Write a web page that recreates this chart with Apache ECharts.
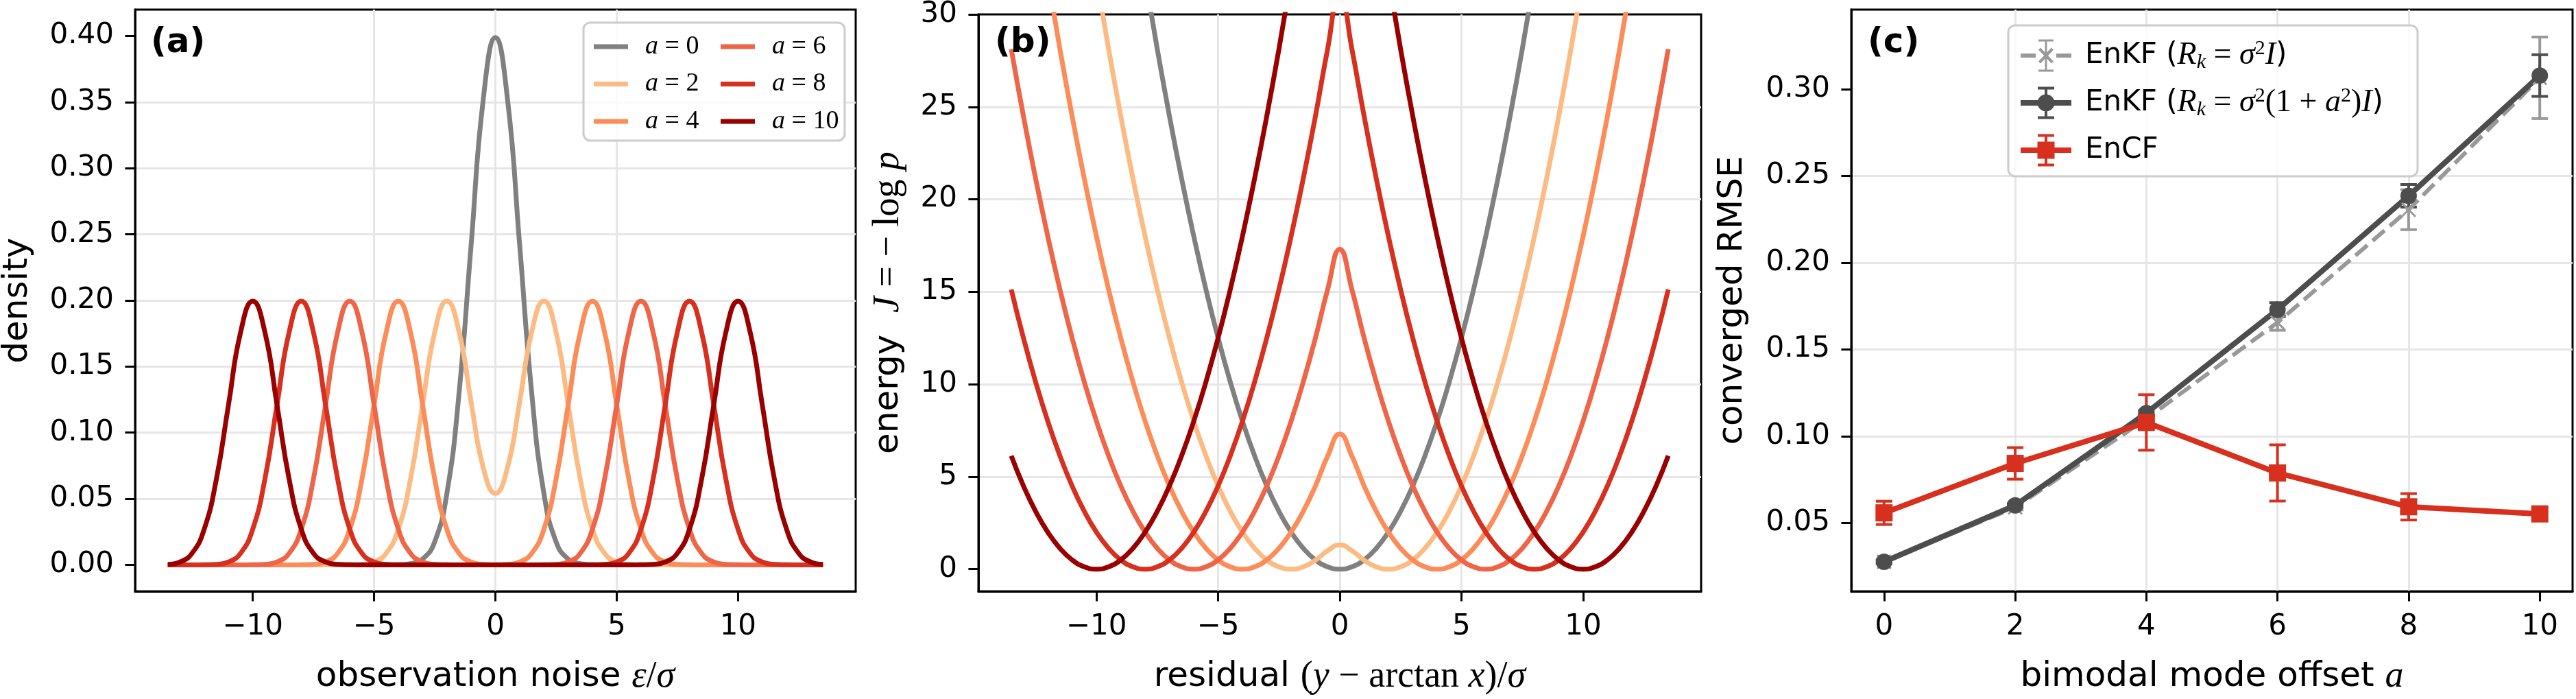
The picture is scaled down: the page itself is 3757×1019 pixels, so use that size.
<!DOCTYPE html>
<html>
<head>
<meta charset="utf-8">
<script src="https://cdn.jsdelivr.net/npm/echarts@6/dist/echarts.min.js"></script>
<style>
  html, body { margin: 0; padding: 0; background: #fff; }
  #chart { width: 3757px; height: 1019px; }
</style>
</head>
<body>
<div id="chart"></div>
<script>
// x grid shared by panels (a) and (b)
const noiseGrid = [-13.5, -13, -12.5, -12, -11.5, -11, -10.5, -10, -9.5, -9, -8.5, -8, -7.5, -7, -6.5, -6, -5.5, -5, -4.5, -4, -3.5, -3, -2.5, -2, -1.5, -1, -0.5,
  0, 0.5, 1, 1.5, 2, 2.5, 3, 3.5, 4, 4.5, 5, 5.5, 6, 6.5, 7, 7.5, 8, 8.5, 9, 9.5, 10, 10.5, 11, 11.5, 12, 12.5, 13, 13.5];

// (a) density
const densityA0 = [0, 0, 0, 0, 0, 0, 0, 0, 0, 0, 0, 0, 0, 0, 0, 0, 0, 0, 0,
  0.0001, 0.0009, 0.0044, 0.0175, 0.0540, 0.1295, 0.2420, 0.3521, 0.3989, 0.3521, 0.2420, 0.1295, 0.0540, 0.0175, 0.0044, 0.0009, 0.0001,
  0, 0, 0, 0, 0, 0, 0, 0, 0, 0, 0, 0, 0, 0, 0, 0, 0, 0, 0];
const densityA2 = [0, 0, 0, 0, 0, 0, 0, 0, 0, 0, 0, 0, 0, 0, 0,
  0.0001, 0.0004, 0.0022, 0.0088, 0.0270, 0.0648, 0.1210, 0.1760, 0.1996, 0.1764, 0.1232, 0.0736, 0.0540,
  0.0736, 0.1232, 0.1764, 0.1996, 0.1760, 0.1210, 0.0648, 0.0270, 0.0088, 0.0022, 0.0004, 0.0001,
  0, 0, 0, 0, 0, 0, 0, 0, 0, 0, 0, 0, 0, 0, 0];
const densityA4 = [0, 0, 0, 0, 0, 0, 0, 0, 0, 0, 0,
  0.0001, 0.0004, 0.0022, 0.0088, 0.0270, 0.0648, 0.1210, 0.1760, 0.1995, 0.1760, 0.1210, 0.0648, 0.0270, 0.0088, 0.0022, 0.0004,
  0.0001,
  0.0004, 0.0022, 0.0088, 0.0270, 0.0648, 0.1210, 0.1760, 0.1995, 0.1760, 0.1210, 0.0648, 0.0270, 0.0088, 0.0022, 0.0004, 0.0001,
  0, 0, 0, 0, 0, 0, 0, 0, 0, 0, 0];
const densityA6 = [0, 0, 0, 0, 0, 0, 0,
  0.0001, 0.0004, 0.0022, 0.0088, 0.0270, 0.0648, 0.1210, 0.1760, 0.1995, 0.1760, 0.1210, 0.0648, 0.0270, 0.0088, 0.0022, 0.0004, 0.0001,
  0, 0, 0, 0, 0, 0, 0,
  0.0001, 0.0004, 0.0022, 0.0088, 0.0270, 0.0648, 0.1210, 0.1760, 0.1995, 0.1760, 0.1210, 0.0648, 0.0270, 0.0088, 0.0022, 0.0004, 0.0001,
  0, 0, 0, 0, 0, 0, 0];
const densityA8 = [0, 0, 0,
  0.0001, 0.0004, 0.0022, 0.0088, 0.0270, 0.0648, 0.1210, 0.1760, 0.1995, 0.1760, 0.1210, 0.0648, 0.0270, 0.0088, 0.0022, 0.0004, 0.0001,
  0, 0, 0, 0, 0, 0, 0, 0, 0, 0, 0, 0, 0, 0, 0,
  0.0001, 0.0004, 0.0022, 0.0088, 0.0270, 0.0648, 0.1210, 0.1760, 0.1995, 0.1760, 0.1210, 0.0648, 0.0270, 0.0088, 0.0022, 0.0004, 0.0001,
  0, 0, 0];
const densityA10 = [0.0004, 0.0022, 0.0088, 0.0270, 0.0648, 0.1210, 0.1760, 0.1995, 0.1760, 0.1210, 0.0648, 0.0270, 0.0088, 0.0022, 0.0004, 0.0001,
  0, 0, 0, 0, 0, 0, 0, 0, 0, 0, 0, 0, 0, 0, 0, 0, 0, 0, 0, 0, 0, 0, 0,
  0.0001, 0.0004, 0.0022, 0.0088, 0.0270, 0.0648, 0.1210, 0.1760, 0.1995, 0.1760, 0.1210, 0.0648, 0.0270, 0.0088, 0.0022, 0.0004];

// (b) energy, null where the curve is far above the top of the panel
const energyA0 = [null, null, null, null, null, null, null, null, null, null, null,
  32, 28.125, 24.5, 21.125, 18, 15.125, 12.5, 10.125, 8, 6.125, 4.5, 3.125, 2, 1.125, 0.5, 0.125, 0,
  0.125, 0.5, 1.125, 2, 3.125, 4.5, 6.125, 8, 10.125, 12.5, 15.125, 18, 21.125, 24.5, 28.125, 32,
  null, null, null, null, null, null, null, null, null, null, null];
const energyA2 = [null, null, null, null, null, null, null,
  32, 28.125, 24.5, 21.125, 18, 15.125, 12.5, 10.125, 8, 6.125, 4.5, 3.125, 2, 1.125, 0.5, 0.125, 0, 0.123, 0.482, 0.998, 1.307,
  0.998, 0.482, 0.123, 0, 0.125, 0.5, 1.125, 2, 3.125, 4.5, 6.125, 8, 10.125, 12.5, 15.125, 18, 21.125, 24.5, 28.125, 32,
  null, null, null, null, null, null, null];
const energyA4 = [null, null, null,
  32, 28.125, 24.5, 21.125, 18, 15.125, 12.5, 10.125, 8, 6.125, 4.5, 3.125, 2, 1.125, 0.5, 0.125, 0, 0.125, 0.5, 1.125, 2, 3.125, 4.5, 6.107, 7.307,
  6.107, 4.5, 3.125, 2, 1.125, 0.5, 0.125, 0, 0.125, 0.5, 1.125, 2, 3.125, 4.5, 6.125, 8, 10.125, 12.5, 15.125, 18, 21.125, 24.5, 28.125, 32,
  null, null, null];
const energyA6 = [28.125, 24.5, 21.125, 18, 15.125, 12.5, 10.125, 8, 6.125, 4.5, 3.125, 2, 1.125, 0.5, 0.125, 0, 0.125, 0.5, 1.125, 2, 3.125, 4.5, 6.125, 8, 10.125, 12.5, 15.12,
  17.307,
  15.12, 12.5, 10.125, 8, 6.125, 4.5, 3.125, 2, 1.125, 0.5, 0.125, 0, 0.125, 0.5, 1.125, 2, 3.125, 4.5, 6.125, 8, 10.125, 12.5, 15.125, 18, 21.125, 24.5, 28.125];
const energyA8 = [15.125, 12.5, 10.125, 8, 6.125, 4.5, 3.125, 2, 1.125, 0.5, 0.125, 0, 0.125, 0.5, 1.125, 2, 3.125, 4.5, 6.125, 8, 10.125, 12.5, 15.125, 18, 21.125, 24.5, 28.125,
  31.307,
  28.125, 24.5, 21.125, 18, 15.125, 12.5, 10.125, 8, 6.125, 4.5, 3.125, 2, 1.125, 0.5, 0.125, 0, 0.125, 0.5, 1.125, 2, 3.125, 4.5, 6.125, 8, 10.125, 12.5, 15.125];
const energyA10 = [6.125, 4.5, 3.125, 2, 1.125, 0.5, 0.125, 0, 0.125, 0.5, 1.125, 2, 3.125, 4.5, 6.125, 8, 10.125, 12.5, 15.125, 18, 21.125, 24.5, 28.125, 32,
  null, null, null, null, null, null, null,
  32, 28.125, 24.5, 21.125, 18, 15.125, 12.5, 10.125, 8, 6.125, 4.5, 3.125, 2, 1.125, 0.5, 0.125, 0, 0.125, 0.5, 1.125, 2, 3.125, 4.5, 6.125];

const modeNames = ['a=0', 'a=2', 'a=4', 'a=6', 'a=8', 'a=10'];
const modeColors = ['#808080', '#fdbb84', '#fc8d59', '#ef6548', '#d7301f', '#990000'];
const densitySets = [densityA0, densityA2, densityA4, densityA6, densityA8, densityA10];
const energySets = [energyA0, energyA2, energyA4, energyA6, energyA8, energyA10];

// (c) converged RMSE with error bar half widths
const offsets = [0, 2, 4, 6, 8, 10];
const rmseEnkfFixed = [0.0276, 0.0590, 0.1100, 0.1655, 0.2305, 0.3065];
const errEnkfFixed = [0.0010, 0.0015, 0.0020, 0.0045, 0.0115, 0.0235];
const rmseEnkfScaled = [0.0276, 0.0601, 0.1133, 0.1729, 0.2385, 0.3078];
const errEnkfScaled = [0.0010, 0.0010, 0.0015, 0.0040, 0.0065, 0.0120];
const rmseEncf = [0.0558, 0.0843, 0.1079, 0.0788, 0.0593, 0.0552];
const errEncf = [0.0067, 0.0091, 0.0160, 0.0162, 0.0076, 0.0015];

const noiseTicks = [-10, -5, 0, 5, 10];
const densityTicks = [0, 0.05, 0.1, 0.15, 0.2, 0.25, 0.3, 0.35, 0.4];
const energyTicks = [0, 5, 10, 15, 20, 25, 30];
const offsetTicks = [0, 2, 4, 6, 8, 10];
const rmseTicks = [0.05, 0.1, 0.15, 0.2, 0.25, 0.3];

const GRID_COLOR = '#e6e6e6';
const SANS = 'DejaVu Sans';
const SERIF = 'Liberation Serif';

function pairs(xs, ys) {
  return xs.map((x, i) => [x, ys[i]]);
}

function mathRich(size) {
  return {
    s: { fontFamily: SANS, fontSize: size, color: '#000' },
    i: { fontFamily: SERIF, fontStyle: 'italic', fontSize: size * 1.08, color: '#000' },
    m: { fontFamily: SERIF, fontSize: size * 1.08, color: '#000' }
  };
}

function signed(v) {
  return v < 0 ? '\u2212' + (-v) : String(v);
}

function valueAxis(gridIndex, min, max, step, ticks, fmt, extra) {
  return Object.assign({
    type: 'value', gridIndex, min, max,
    minInterval: step, maxInterval: step,
    axisLine: { show: true, onZero: false, lineStyle: { color: '#000', width: 3 } },
    axisTick: { show: true, length: 14.6, customValues: ticks, lineStyle: { color: '#000', width: 3 } },
    axisLabel: {
      customValues: ticks, margin: 31, fontFamily: SANS, fontSize: 42, color: '#000', formatter: fmt
    },
    splitLine: { show: true, showMinLine: false, showMaxLine: false, lineStyle: { color: GRID_COLOR, width: 3 } },
    nameLocation: 'middle',
    nameTextStyle: { fontFamily: SANS, fontSize: 50, color: '#000', rich: mathRich(50) }
  }, extra);
}

function errorBarItem(color) {
  return function (params, api) {
    const x = api.value(0);
    const top = api.coord([x, api.value(2)]);
    const bottom = api.coord([x, api.value(1)]);
    const half = 12;
    const style = { stroke: color, lineWidth: 4, fill: null };
    return {
      type: 'group',
      children: [
        { type: 'line', shape: { x1: top[0], y1: top[1], x2: bottom[0], y2: bottom[1] }, style },
        { type: 'line', shape: { x1: top[0] - half, y1: top[1], x2: top[0] + half, y2: top[1] }, style },
        { type: 'line', shape: { x1: bottom[0] - half, y1: bottom[1], x2: bottom[0] + half, y2: bottom[1] }, style }
      ]
    };
  };
}

function errorSeries(name, means, errs, color) {
  return {
    type: 'custom', name, xAxisIndex: 2, yAxisIndex: 2, silent: true,
    renderItem: errorBarItem(color),
    encode: { x: 0, y: [1, 2] },
    data: offsets.map((x, i) => [x, means[i] - errs[i], means[i] + errs[i]])
  };
}

const series = [];
densitySets.forEach((ys, k) => {
  series.push({
    type: 'line', name: modeNames[k], xAxisIndex: 0, yAxisIndex: 0,
    data: pairs(noiseGrid, ys), smooth: true, showSymbol: false,
    lineStyle: { width: 7, color: modeColors[k] }, itemStyle: { color: modeColors[k] }
  });
});
energySets.forEach((ys, k) => {
  series.push({
    type: 'line', name: modeNames[k], xAxisIndex: 1, yAxisIndex: 1,
    data: pairs(noiseGrid, ys), smooth: true, showSymbol: false,
    lineStyle: { width: 7, color: modeColors[k] }, itemStyle: { color: modeColors[k] }
  });
});

series.push(errorSeries('err fixed', rmseEnkfFixed, errEnkfFixed, '#999999'));
series.push({
  type: 'line', name: 'EnKF fixed', xAxisIndex: 2, yAxisIndex: 2,
  data: pairs(offsets, rmseEnkfFixed),
  symbol: 'path://M0,0L10,10M10,0L0,10', symbolSize: 20,
  lineStyle: { width: 6, color: '#999999', type: [23, 10] },
  itemStyle: { color: '#999999', borderColor: '#999999', borderWidth: 3 }
});
series.push(errorSeries('err scaled', rmseEnkfScaled, errEnkfScaled, '#4d4d4d'));
series.push({
  type: 'line', name: 'EnKF scaled', xAxisIndex: 2, yAxisIndex: 2,
  data: pairs(offsets, rmseEnkfScaled),
  symbol: 'circle', symbolSize: 24,
  lineStyle: { width: 8, color: '#4d4d4d' }, itemStyle: { color: '#4d4d4d' }
});
series.push(errorSeries('err encf', rmseEncf, errEncf, '#d7301f'));
series.push({
  type: 'line', name: 'EnCF', xAxisIndex: 2, yAxisIndex: 2,
  data: pairs(offsets, rmseEncf),
  symbol: 'rect', symbolSize: 25,
  lineStyle: { width: 8, color: '#d7301f' }, itemStyle: { color: '#d7301f' }
});

// legend handles for (c): line + error bar + marker
const iconFixed = 'path://M0,20.5h22v6h-22z M52,20.5h22v6h-22z M35.5,0h3v47h-3z M26,0h22v3h-22z M26,44h22v3h-22z ' +
  'M26,15L29,12L48,32L45,35Z M45,12L48,15L29,35L26,32Z';
const iconScaled = 'path://M0,19.5h74v8h-74z M35,0h4v47h-4z M25,0h24v4h-24z M25,43h24v4h-24z ' +
  'M24.5,23.5a12.5,12.5 0 1,1 25,0a12.5,12.5 0 1,1 -25,0z';
const iconEncf = 'path://M0,19.5h74v8h-74z M35,0h4v47h-4z M25,0h24v4h-24z M25,43h24v4h-24z M24.5,11h25v25h-25z';

const rmseLegendText = {
  'EnKF fixed': '{s|EnKF (}{i|R}{sub|k}{m| = }{i|\u03c3}{sup|2}{i|I}{s|)}',
  'EnKF scaled': '{s|EnKF (}{i|R}{sub|k}{m| = }{i|\u03c3}{sup|2}{m|(1 + }{i|a}{sup|2}{m|)}{i|I}{s|)}',
  'EnCF': '{s|EnCF}'
};

const modeLegend = (left, names) => ({
  orient: 'vertical', left, top: 43, itemWidth: 50, itemHeight: 7, itemGap: 14.5,
  icon: 'rect', selectedMode: false,
  data: names,
  formatter: n => '{i|a}{m| = ' + n.split('=')[1] + '}',
  textStyle: {
    padding: [0, 0, 0, 20], lineHeight: 40, color: '#000',
    rich: {
      i: { fontFamily: SERIF, fontStyle: 'italic', fontSize: 38, lineHeight: 40 },
      m: { fontFamily: SERIF, fontSize: 38, lineHeight: 40 }
    }
  }
});

const option = {
  animation: false,
  backgroundColor: '#fff',
  grid: [
    { left: 195, top: 14, width: 1053, height: 860, show: true, borderColor: '#000', borderWidth: 3 },
    { left: 1427, top: 14, width: 1054, height: 860, show: true, borderColor: '#000', borderWidth: 3 },
    { left: 2700, top: 14, width: 1052, height: 860, show: true, borderColor: '#000', borderWidth: 3 }
  ],
  xAxis: [
    valueAxis(0, -14.85, 14.85, 5, noiseTicks, signed,
      { name: '{s|observation noise }{i|\u03b5}{m|/}{i|\u03c3}', nameGap: 98 }),
    valueAxis(1, -14.85, 14.85, 5, noiseTicks, signed,
      { name: '{s|residual }{m|(}{i|y}{m| \u2212 arctan }{i|x}{m|)/}{i|\u03c3}', nameGap: 98 }),
    valueAxis(2, -0.5, 10.5, 2, offsetTicks, v => String(v),
      { name: '{s|bimodal mode offset }{i|a}', nameGap: 98 })
  ],
  yAxis: [
    valueAxis(0, -0.02, 0.42, 0.05, densityTicks, v => v.toFixed(2),
      { name: '{s|density}', nameGap: 146 }),
    valueAxis(1, -1.2, 30, 5, energyTicks, v => String(v),
      { name: '{s|energy  }{i|J}{m| = \u2212 log }{i|p}', nameGap: 104 }),
    valueAxis(2, 0.0106, 0.3458, 0.05, rmseTicks, v => v.toFixed(2),
      { name: '{s|converged RMSE}', nameGap: 148 })
  ],
  legend: [
    modeLegend(861, modeNames.slice(0, 3)),
    modeLegend(1046, modeNames.slice(3)),
    {
      orient: 'vertical', left: 2942, top: 51, itemWidth: 74, itemHeight: 47, itemGap: 19,
      selectedMode: false,
      itemStyle: { borderWidth: 0 },
      data: [
        { name: 'EnKF fixed', icon: iconFixed },
        { name: 'EnKF scaled', icon: iconScaled },
        { name: 'EnCF', icon: iconEncf }
      ],
      formatter: n => rmseLegendText[n],
      textStyle: {
        padding: [0, 0, 0, 15], lineHeight: 50, color: '#000',
        rich: {
          s: { fontFamily: SANS, fontSize: 42, lineHeight: 50 },
          i: { fontFamily: SERIF, fontStyle: 'italic', fontSize: 46, lineHeight: 50 },
          m: { fontFamily: SERIF, fontSize: 46, lineHeight: 50 },
          sub: { fontFamily: SERIF, fontStyle: 'italic', fontSize: 30, lineHeight: 30, verticalAlign: 'bottom' },
          sup: { fontFamily: SERIF, fontSize: 30, lineHeight: 30, verticalAlign: 'top' }
        }
      }
    }
  ],
  graphic: [
    { type: 'rect', z: 3, shape: { x: 851, y: 33, width: 381, height: 172, r: 10 },
      style: { fill: 'rgba(255,255,255,0.8)', stroke: '#cccccc', lineWidth: 3 } },
    { type: 'rect', z: 3, shape: { x: 2929, y: 37, width: 597, height: 220, r: 10 },
      style: { fill: 'rgba(255,255,255,0.8)', stroke: '#cccccc', lineWidth: 3 } },
    { type: 'text', z: 5, x: 220, y: 38, style: { text: '(a)', fontFamily: SANS, fontWeight: 'bold', fontSize: 50, fill: '#000' } },
    { type: 'text', z: 5, x: 1451, y: 38, style: { text: '(b)', fontFamily: SANS, fontWeight: 'bold', fontSize: 50, fill: '#000' } },
    { type: 'text', z: 5, x: 2724, y: 38, style: { text: '(c)', fontFamily: SANS, fontWeight: 'bold', fontSize: 50, fill: '#000' } }
  ],
  series
};

const chart = echarts.init(document.getElementById('chart'));
chart.setOption(option);
</script>
</body>
</html>
